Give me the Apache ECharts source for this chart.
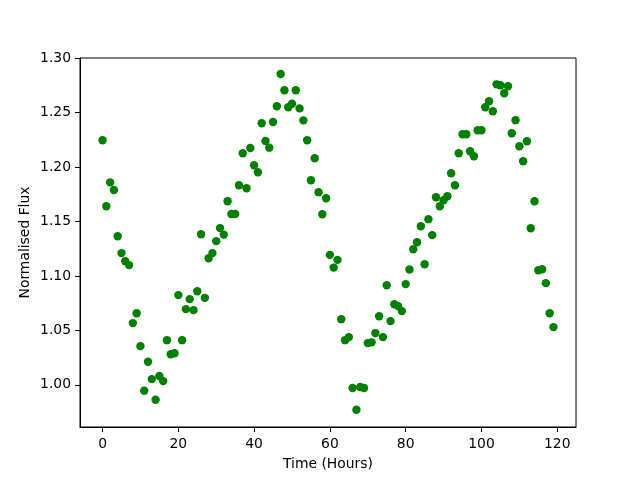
<!DOCTYPE html>
<html><head><meta charset="utf-8">
<script src="https://cdn.jsdelivr.net/npm/echarts@6/dist/echarts.min.js"></script>
<style>html,body{margin:0;padding:0;background:#fff}#c{width:640px;height:480px}</style>
</head><body><div id="c"></div>
<script>
const timeHours = [0,1,2,3,4,5,6,7,8,9,10,11,12,13,14,15,16,17,18,19,20,21,22,23,24,25,26,27,28,29,30,31,32,33,34,35,36,37,38,39,40,41,42,43,44,45,46,47,48,49,50,51,52,53,54,55,56,57,58,59,60,61,62,63,64,65,66,67,68,69,70,71,72,73,74,75,76,77,78,79,80,81,82,83,84,85,86,87,88,89,90,91,92,93,94,95,96,97,98,99,100,101,102,103,104,105,106,107,108,109,110,111,112,113,114,115,116,117,118,119];
const flux = [1.2247,1.164,1.186,1.179,1.1365,1.121,1.1136,1.110,1.0567,1.0658,1.0355,0.9945,1.0211,1.0052,0.9862,1.008,1.0034,1.041,1.028,1.029,1.0824,1.041,1.0695,1.0787,1.0686,1.086,1.1384,1.0799,1.1163,1.121,1.132,1.144,1.138,1.1687,1.157,1.157,1.1834,1.2128,1.1806,
1.2176,1.2017,1.1953,1.2403,1.224,1.2179,1.2415,1.2559,1.2856,1.2706,1.255,1.2583,1.2706,1.254,1.243,1.2247,1.188,1.2082,1.177,1.1567,1.1714,1.1194,1.1077,1.1148,1.0603,1.041,1.0438,0.997,0.977,0.998,0.997,1.0383,1.039,1.0475,1.063,1.0438,1.0915,1.0585,1.074,1.0723,1.0677,1.0925,1.106,
1.1246,1.131,1.1457,1.1108,1.1522,1.1375,1.1724,1.164,1.1696,1.1733,1.1944,1.1834,1.2128,1.2302,1.2302,1.2146,1.21,1.2339,1.2339,1.255,1.2605,1.2513,1.2761,1.2752,1.2679,1.2743,1.2311,1.2431,1.2192,1.2054,1.2238,1.1439,1.1687,1.1053,1.1062,1.0934,1.0658,1.053];
const xTicks = [0,20,40,60,80,100,120];
const yTicks = [1.00,1.05,1.10,1.15,1.20,1.25,1.30];
const xLabel = 'Time (Hours)';
const yLabel = 'Normalised Flux';

const font = {color:'#000', fontSize:13.9, fontFamily:'DejaVu Sans'};
const chart = echarts.init(document.getElementById('c'), null, {renderer:'canvas'});
chart.setOption({
  animation:false,
  backgroundColor:'#fff',
  grid:{left:80, top:58, width:496, height:369, show:true, borderColor:'#000', borderWidth:1, backgroundColor:'transparent'},
  xAxis:{
    type:'value', min:-5.95, max:124.95,
    axisLine:{show:true, onZero:false, lineStyle:{color:'#000', width:1}},
    axisTick:{show:true, customValues:xTicks, length:5, inside:false, lineStyle:{color:'#000', width:1}},
    axisLabel:Object.assign({customValues:xTicks, margin:10, formatter:v=>String(v)}, font),
    splitLine:{show:false},
    name:xLabel, nameLocation:'middle', nameGap:30, nameTextStyle:font
  },
  yAxis:{
    type:'value', min:0.9612, max:1.3003,
    axisLine:{show:true, onZero:false, lineStyle:{color:'#000', width:1}},
    axisTick:{show:true, customValues:yTicks, length:5, inside:false, lineStyle:{color:'#000', width:1}},
    axisLabel:Object.assign({customValues:yTicks, margin:9, formatter:v=>v.toFixed(2)}, font),
    splitLine:{show:false},
    name:yLabel, nameLocation:'middle', nameGap:48, nameMoveOverlap:false, nameTextStyle:font
  },
  series:[{
    type:'scatter',
    symbol:'circle',
    symbolSize:8.4,
    itemStyle:{color:'#008000', opacity:1},
    data:timeHours.map((t,i)=>[t, flux[i]])
  }]
});
</script></body></html>
